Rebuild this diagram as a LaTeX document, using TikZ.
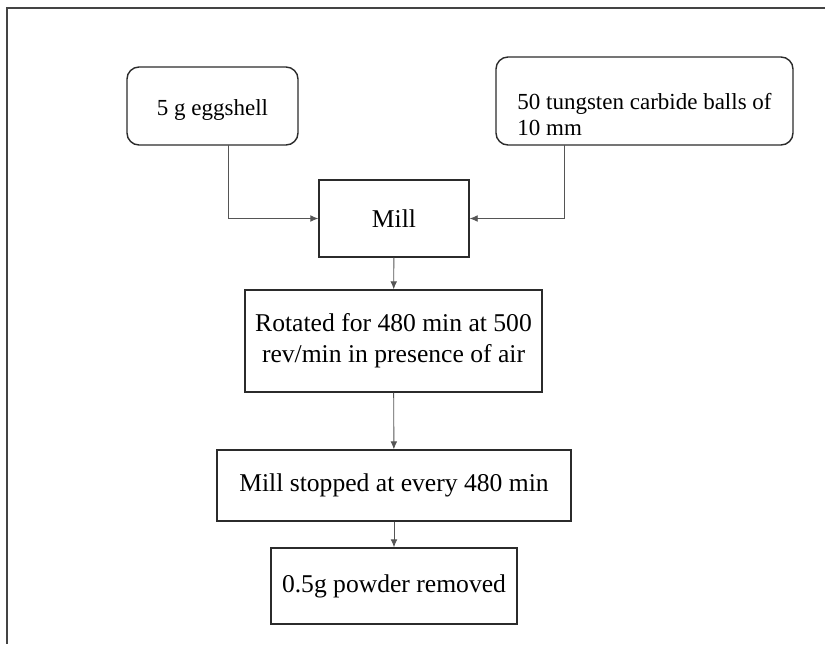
\documentclass[tikz,border=0pt]{standalone}
\usepackage{fontspec}
\setmainfont{Liberation Serif}
\usepackage{xcolor}
\usepackage{tikz}
\usetikzlibrary{arrows.meta, positioning}
\definecolor{boxline}{HTML}{2B2B2B}
\definecolor{wire}{HTML}{555555}
\definecolor{frame}{HTML}{444444}
\tikzset{
  input box/.style={
    draw=boxline, line width=0.7pt, rounded corners=6pt,
    align=center, inner sep=0pt,
    font=\fontsize{11.5}{13}\selectfont
  },
  process box/.style={
    draw=boxline, line width=0.7pt,
    align=center, inner sep=0pt,
    font=\fontsize{12.8}{15.5}\selectfont
  },
  flow/.style={
    -{Latex[length=4pt, width=3.4pt]},
    line width=0.45pt, color=wire
  }
}

\begin{document}
\begin{tikzpicture}[x=0.5pt, y=-0.5pt]
  \useasboundingbox (0,0) rectangle (825,644);

  % Frame
  \draw[frame, line width=1pt] (6,8) -- (825,8);
  \draw[frame, line width=1pt] (7,8) -- (7,644);

  % Inputs
  \node[input box, minimum width=85.5pt, minimum height=39pt] (egg) at (212.5,106) {\rule{0pt}{12pt}5 g eggshell};
  \node[input box, minimum width=148.5pt, minimum height=44pt, align=left] (balls) at (644.5,101) {\rule{0pt}{22pt}50 tungsten carbide balls of\\10 mm};

  % Process steps
  \node[process box, minimum width=75pt, minimum height=38.5pt] (mill) at (394,218.5) {Mill};
  \node[process box, minimum width=148.5pt, minimum height=51pt] (rotate) at (393.5,341) {Rotated for 480 min at 500\\rev/min in presence of air};
  \node[process box, minimum width=177pt, minimum height=35.5pt] (stop) at (394,485.5) {Mill stopped at every 480 min};
  \node[process box, minimum width=123pt, minimum height=38pt] (powder) at (394,586) {0.5g powder removed};

  % Connectors
  \coordinate (eggout) at (228,145);
  \coordinate (ballsout) at (564,145);
  \draw[flow] (eggout) |- (mill.west);
  \draw[flow] (ballsout) |- (mill.east);
  \draw[flow] (mill) -- (rotate);
  \draw[flow] (rotate) -- (stop);
  \draw[flow] (stop) -- (powder);
\end{tikzpicture}
\end{document}
